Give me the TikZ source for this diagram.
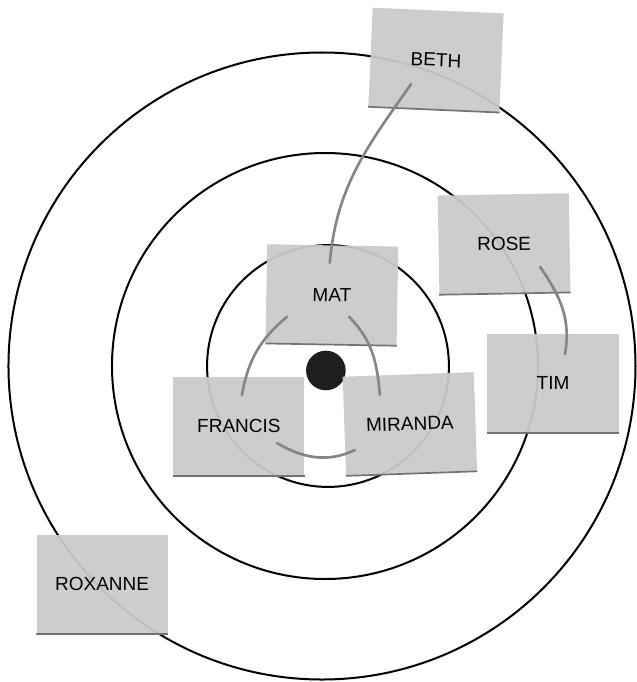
\documentclass[tikz,border=0pt]{standalone}
\usepackage{fontspec}
\setmainfont{Liberation Sans}
\usetikzlibrary{calc}
\definecolor{notegray}{HTML}{CACACA}
\definecolor{penline}{HTML}{858585}
\definecolor{dotblack}{HTML}{1E1E1E}
\tikzset{
    note/.style={fill=notegray, fill opacity=0.94, text opacity=1,
        minimum width=4.37cm, minimum height=3.3cm, inner sep=0pt,
        font=\fontsize{18}{20}\selectfont},
    ring/.style={line width=1.9pt},
    link/.style={penline, line width=2.5pt, line cap=round},
    shadowedge/.style={black!55, line width=1.6pt}
}
\begin{document}
\begin{tikzpicture}
    \useasboundingbox (-10.833,-10.533) rectangle (10.4,12.2);
    % rings
    \draw[ring] (-0.1, 0) circle (10.45);
    \draw[ring] (0, 0) circle (7.1);
    \draw[ring] (0.1, 0) circle (4.03);
    % centre dot
    \node[circle, fill=dotblack, minimum size=1.32cm, inner sep=0pt] (bullseye) at (0.03, -0.15) {};
    % sticky notes
    \node[note, rotate=-2.5] (beth) at (3.7, 10.2) {BETH};
    \node[note, rotate=1] (rose) at (5.97, 4.07) {ROSE};
    \node[note] (tim) at (7.6, -0.57) {TIM};
    \node[note, rotate=-1] (mat) at (0.23, 2.37) {MAT};
    \node[note] (francis) at (-2.87, -2.0) {FRANCIS};
    \node[note, rotate=2] (miranda) at (2.83, -1.93) {MIRANDA};
    \node[note] (roxanne) at (-7.43, -7.27) {ROXANNE};
    \foreach \n in {beth, rose, tim, mat, francis, miranda, roxanne}
        \draw[shadowedge] (\n.south west) -- (\n.south east);
    % pen lines between notes
    \draw[link] ($(beth)+(-0.83,-0.8)$) to[out=235, in=85] ($(mat)+(-0.07,1.07)$);
    \draw[link] ($(mat)+(-1.5,-0.73)$) to[out=220, in=80] ($(francis)+(0.1,1.03)$);
    \draw[link] ($(mat)+(0.57,-0.73)$) to[out=-45, in=95] ($(miranda)+(-1.0,0.97)$);
    \draw[link] ($(francis)+(1.27,-0.57)$) to[out=-30, in=205] ($(miranda)+(-1.83,-0.87)$);
    \draw[link] ($(rose)+(1.2,-0.77)$) to[out=-55, in=80] ($(tim)+(0.4,0.97)$);
\end{tikzpicture}
\end{document}
